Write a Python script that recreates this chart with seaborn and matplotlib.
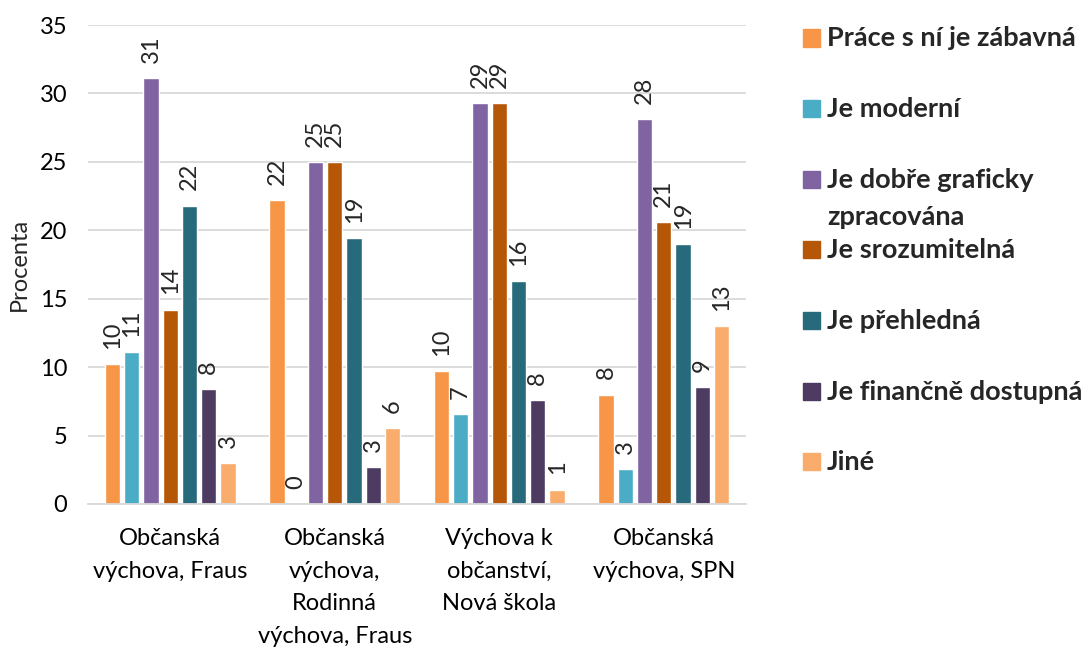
import pandas as pd
import matplotlib.pyplot as plt
from matplotlib.patches import Rectangle
import seaborn as sns

# categories (textbooks) and reasons
books = [
    'Občanská\nvýchova, Fraus',
    'Občanská\nvýchova,\nRodinná\nvýchova, Fraus',
    'Výchova k\nobčanství,\nNová škola',
    'Občanská\nvýchova, SPN',
]
reasons = [
    'Práce s ní je zábavná',
    'Je moderní',
    'Je dobře graficky\nzpracována',
    'Je srozumitelná',
    'Je přehledná',
    'Je finančně dostupná',
    'Jiné',
]

# percent values per reason, one value per book
zabavna = [10.2, 22.2, 9.7, 8.0]
moderni = [11.1, 0.0, 6.55, 2.55]
graficky = [31.1, 25.0, 29.3, 28.1]
srozumitelna = [14.2, 25.0, 29.3, 20.6]
prehledna = [21.8, 19.4, 16.3, 19.0]
financne = [8.4, 2.7, 7.6, 8.55]
jine = [3.0, 5.55, 1.05, 13.0]

colors = ['#F79646', '#4BACC6', '#8064A2', '#B65708', '#276A7C', '#4D3B62', '#F9AC6B']

series = [zabavna, moderni, graficky, srozumitelna, prehledna, financne, jine]
rows = []
for reason, vals in zip(reasons, series):
    for book, v in zip(books, vals):
        rows.append({'kniha': book, 'duvod': reason, 'procenta': v})
df = pd.DataFrame(rows)

sns.set_style('white')
plt.rcParams['font.family'] = ['Lato', 'DejaVu Sans']

W, H = 1086, 648
fig = plt.figure(figsize=(W / 100, H / 100), dpi=100)
ax = fig.add_axes([88 / W, 1 - 504 / H, 658 / W, 479 / H])

sns.barplot(data=df, x='kniha', y='procenta', hue='duvod', hue_order=reasons,
            palette=colors, saturation=1, width=0.82, gap=0.2, legend=False, ax=ax)

for cont in ax.containers:
    ax.bar_label(cont, fmt='%.0f', rotation=90, padding=11, fontsize=17)

ax.set_ylim(0, 35)
ax.set_yticks(range(0, 36, 5))
ax.yaxis.grid(True, color='#D9D9D9', linewidth=1.3)
ax.set_axisbelow(True)
for s in ['top', 'right', 'left']:
    ax.spines[s].set_visible(False)
ax.spines['bottom'].set_color('#D9D9D9')
ax.spines['bottom'].set_linewidth(1.3)
ax.tick_params(axis='both', length=0, labelsize=17, colors='black')
ax.tick_params(axis='x', pad=17)
ax.tick_params(axis='y', pad=15)
for lab in ax.get_xticklabels():
    lab.set_linespacing(1.7)
ax.set_xlabel('')
ax.set_ylabel('Procenta', fontsize=17)
ax.yaxis.set_label_coords(-0.088, 0.5)

# legend laid out like the original: equal slots, a wrapped label keeps its slot
for i, (reason, col) in enumerate(zip(reasons, colors)):
    yc = 38 + 70.6 * i
    fig.patches.append(Rectangle((803 / W, 1 - (yc + 8.5) / H), 17 / W, 17 / H,
                                 transform=fig.transFigure, color=col))
    for k, line in enumerate(reason.split('\n')):
        fig.text(827 / W, 1 - (yc + 8.5 + 37 * k) / H, line, fontsize=19.5,
                 fontweight='bold', va='baseline', ha='left')

plt.savefig('out.png', dpi=100)
